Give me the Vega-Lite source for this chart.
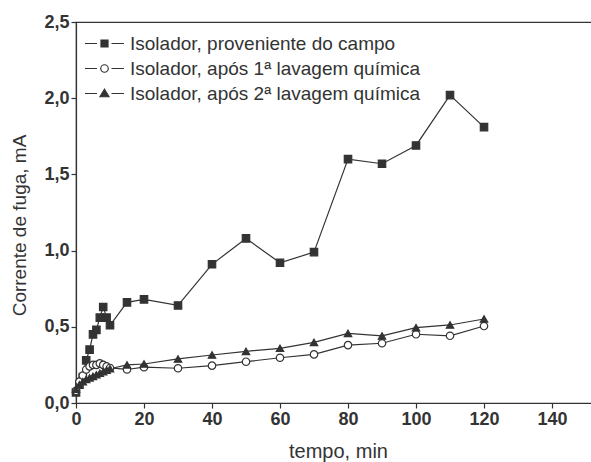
{
  "$schema": "https://vega.github.io/schema/vega-lite/v6.json",
  "width": 516,
  "height": 381,
  "autosize": {"type": "none"},
  "padding": {"left": 76, "top": 22, "right": 5, "bottom": 59},
  "background": "white",
  "config": {
    "view": {"stroke": "#333333", "strokeWidth": 1.2},
    "font": "Liberation Sans",
    "axis": {
      "grid": false,
      "domainColor": "#333333",
      "tickColor": "#333333",
      "labelColor": "#333333",
      "titleColor": "#333333",
      "labelFont": "Liberation Sans",
      "titleFont": "Liberation Sans",
      "labelFontSize": 18,
      "labelFontWeight": "bold",
      "titleFontSize": 19,
      "titleFontWeight": "normal",
      "domainWidth": 1.2,
      "tickWidth": 1.2
    }
  },
  "data": {
    "values": [
      {"t": 0, "i": 0.07, "serie": "Isolador, proveniente do campo"},
      {"t": 1, "i": 0.12, "serie": "Isolador, proveniente do campo"},
      {"t": 2, "i": 0.17, "serie": "Isolador, proveniente do campo"},
      {"t": 3, "i": 0.28, "serie": "Isolador, proveniente do campo"},
      {"t": 4, "i": 0.35, "serie": "Isolador, proveniente do campo"},
      {"t": 5, "i": 0.45, "serie": "Isolador, proveniente do campo"},
      {"t": 6, "i": 0.48, "serie": "Isolador, proveniente do campo"},
      {"t": 7, "i": 0.56, "serie": "Isolador, proveniente do campo"},
      {"t": 8, "i": 0.63, "serie": "Isolador, proveniente do campo"},
      {"t": 9, "i": 0.56, "serie": "Isolador, proveniente do campo"},
      {"t": 10, "i": 0.51, "serie": "Isolador, proveniente do campo"},
      {"t": 15, "i": 0.66, "serie": "Isolador, proveniente do campo"},
      {"t": 20, "i": 0.68, "serie": "Isolador, proveniente do campo"},
      {"t": 30, "i": 0.64, "serie": "Isolador, proveniente do campo"},
      {"t": 40, "i": 0.91, "serie": "Isolador, proveniente do campo"},
      {"t": 50, "i": 1.08, "serie": "Isolador, proveniente do campo"},
      {"t": 60, "i": 0.92, "serie": "Isolador, proveniente do campo"},
      {"t": 70, "i": 0.99, "serie": "Isolador, proveniente do campo"},
      {"t": 80, "i": 1.60, "serie": "Isolador, proveniente do campo"},
      {"t": 90, "i": 1.57, "serie": "Isolador, proveniente do campo"},
      {"t": 100, "i": 1.69, "serie": "Isolador, proveniente do campo"},
      {"t": 110, "i": 2.02, "serie": "Isolador, proveniente do campo"},
      {"t": 120, "i": 1.81, "serie": "Isolador, proveniente do campo"},
      {"t": 0, "i": 0.08, "serie": "Isolador, após 1ª lavagem química"},
      {"t": 1, "i": 0.14, "serie": "Isolador, após 1ª lavagem química"},
      {"t": 2, "i": 0.18, "serie": "Isolador, após 1ª lavagem química"},
      {"t": 3, "i": 0.22, "serie": "Isolador, após 1ª lavagem química"},
      {"t": 4, "i": 0.24, "serie": "Isolador, após 1ª lavagem química"},
      {"t": 5, "i": 0.25, "serie": "Isolador, após 1ª lavagem química"},
      {"t": 6, "i": 0.25, "serie": "Isolador, após 1ª lavagem química"},
      {"t": 7, "i": 0.26, "serie": "Isolador, após 1ª lavagem química"},
      {"t": 8, "i": 0.25, "serie": "Isolador, após 1ª lavagem química"},
      {"t": 9, "i": 0.24, "serie": "Isolador, após 1ª lavagem química"},
      {"t": 10, "i": 0.23, "serie": "Isolador, após 1ª lavagem química"},
      {"t": 15, "i": 0.22, "serie": "Isolador, após 1ª lavagem química"},
      {"t": 20, "i": 0.235, "serie": "Isolador, após 1ª lavagem química"},
      {"t": 30, "i": 0.228, "serie": "Isolador, após 1ª lavagem química"},
      {"t": 40, "i": 0.245, "serie": "Isolador, após 1ª lavagem química"},
      {"t": 50, "i": 0.271, "serie": "Isolador, após 1ª lavagem química"},
      {"t": 60, "i": 0.297, "serie": "Isolador, após 1ª lavagem química"},
      {"t": 70, "i": 0.319, "serie": "Isolador, após 1ª lavagem química"},
      {"t": 80, "i": 0.38, "serie": "Isolador, após 1ª lavagem química"},
      {"t": 90, "i": 0.392, "serie": "Isolador, após 1ª lavagem química"},
      {"t": 100, "i": 0.451, "serie": "Isolador, após 1ª lavagem química"},
      {"t": 110, "i": 0.441, "serie": "Isolador, após 1ª lavagem química"},
      {"t": 120, "i": 0.505, "serie": "Isolador, após 1ª lavagem química"},
      {"t": 0, "i": 0.09, "serie": "Isolador, após 2ª lavagem química"},
      {"t": 1, "i": 0.12, "serie": "Isolador, após 2ª lavagem química"},
      {"t": 2, "i": 0.14, "serie": "Isolador, após 2ª lavagem química"},
      {"t": 3, "i": 0.155, "serie": "Isolador, após 2ª lavagem química"},
      {"t": 4, "i": 0.165, "serie": "Isolador, após 2ª lavagem química"},
      {"t": 5, "i": 0.175, "serie": "Isolador, após 2ª lavagem química"},
      {"t": 6, "i": 0.185, "serie": "Isolador, após 2ª lavagem química"},
      {"t": 7, "i": 0.195, "serie": "Isolador, após 2ª lavagem química"},
      {"t": 8, "i": 0.205, "serie": "Isolador, após 2ª lavagem química"},
      {"t": 9, "i": 0.215, "serie": "Isolador, após 2ª lavagem química"},
      {"t": 10, "i": 0.225, "serie": "Isolador, após 2ª lavagem química"},
      {"t": 15, "i": 0.25, "serie": "Isolador, após 2ª lavagem química"},
      {"t": 20, "i": 0.256, "serie": "Isolador, após 2ª lavagem química"},
      {"t": 30, "i": 0.289, "serie": "Isolador, após 2ª lavagem química"},
      {"t": 40, "i": 0.315, "serie": "Isolador, após 2ª lavagem química"},
      {"t": 50, "i": 0.339, "serie": "Isolador, após 2ª lavagem química"},
      {"t": 60, "i": 0.359, "serie": "Isolador, após 2ª lavagem química"},
      {"t": 70, "i": 0.398, "serie": "Isolador, após 2ª lavagem química"},
      {"t": 80, "i": 0.457, "serie": "Isolador, após 2ª lavagem química"},
      {"t": 90, "i": 0.44, "serie": "Isolador, após 2ª lavagem química"},
      {"t": 100, "i": 0.494, "serie": "Isolador, após 2ª lavagem química"},
      {"t": 110, "i": 0.512, "serie": "Isolador, após 2ª lavagem química"},
      {"t": 120, "i": 0.551, "serie": "Isolador, após 2ª lavagem química"}
    ]
  },
  "layer": [
    {
      "mark": {"type": "line", "color": "#333333", "strokeWidth": 1.2},
      "encoding": {
        "x": {
          "field": "t", "type": "quantitative",
          "scale": {"domain": [0, 151.76], "nice": false},
          "axis": {
            "orient": "bottom",
            "values": [0, 10, 20, 30, 40, 50, 60, 70, 80, 90, 100, 110, 120, 130, 140, 150],
            "labelExpr": "datum.value % 20 === 0 ? datum.label : ''",
            "tickSize": 5,
            "labelPadding": 2,
            "labelFlush": false,
            "title": "tempo, min",
            "titleFontSize": 20,
            "titleX": 262,
            "titlePadding": 13
          }
        },
        "y": {
          "field": "i", "type": "quantitative",
          "scale": {"domain": [0, 2.5], "nice": false},
          "axis": {
            "values": [0, 0.25, 0.5, 0.75, 1, 1.25, 1.5, 1.75, 2, 2.25, 2.5],
            "labelExpr": "(datum.value * 2) % 1 === 0 ? replace(format(datum.value, '.1f'), '.', ',') : ''",
            "tickSize": 5,
            "labelPadding": 2,
            "labelFlush": false,
            "title": "Corrente de fuga, mA",
            "titleY": 203,
            "titlePadding": 14
          }
        },
        "detail": {"field": "serie", "type": "nominal"}
      }
    },
    {
      "mark": {"type": "point", "filled": true, "size": 55, "stroke": "#333333", "strokeWidth": 1.2, "opacity": 1},
      "encoding": {
        "x": {"field": "t", "type": "quantitative", "scale": {"domain": [0, 151.76], "nice": false}},
        "y": {"field": "i", "type": "quantitative", "scale": {"domain": [0, 2.5], "nice": false}},
        "shape": {
          "field": "serie", "type": "nominal",
          "scale": {
            "domain": ["Isolador, proveniente do campo", "Isolador, após 1ª lavagem química", "Isolador, após 2ª lavagem química"],
            "range": ["square", "circle", "triangle-up"]
          },
          "legend": null
        },
        "fill": {
          "field": "serie", "type": "nominal",
          "scale": {
            "domain": ["Isolador, proveniente do campo", "Isolador, após 1ª lavagem química", "Isolador, após 2ª lavagem química"],
            "range": ["#333333", "#ffffff", "#333333"]
          },
          "legend": null
        }
      }
    },
    {
      "mark": {"type": "point", "filled": true, "size": 0, "strokeWidth": 1.2, "opacity": 1},
      "encoding": {
        "x": {"field": "t", "type": "quantitative", "scale": {"domain": [0, 151.76], "nice": false}},
        "y": {"field": "i", "type": "quantitative", "scale": {"domain": [0, 2.5], "nice": false}},
        "shape": {
          "field": "serie", "type": "nominal",
          "scale": {
            "domain": ["Isolador, proveniente do campo", "Isolador, após 1ª lavagem química", "Isolador, após 2ª lavagem química"],
            "range": [
              "M-3.9,0H-1.5M1.4,0H3.9M-0.7,-0.7H0.7V0.7H-0.7Z",
              "M-3.9,0H-1.5M1.4,0H3.9M-0.75,0A0.75,0.75 0 1 1 0.75,0A0.75,0.75 0 1 1 -0.75,0Z",
              "M-3.9,0H-1.5M1.4,0H3.9M0,-0.85L0.9,0.65H-0.9Z"
            ]
          },
          "legend": {
            "title": null, "orient": "none", "legendX": 19, "legendY": 12,
            "symbolSize": 100, "symbolStrokeWidth": 1.2,
            "labelFontSize": 19, "labelColor": "#333333", "labelFont": "Liberation Sans",
            "labelOffset": 16, "rowPadding": 5, "padding": 0, "labelLimit": 400
          }
        },
        "fill": {
          "field": "serie", "type": "nominal",
          "scale": {
            "domain": ["Isolador, proveniente do campo", "Isolador, após 1ª lavagem química", "Isolador, após 2ª lavagem química"],
            "range": ["#333333", "#ffffff", "#333333"]
          },
          "legend": {
            "title": null, "orient": "none", "legendX": 19, "legendY": 12,
            "symbolSize": 100, "symbolStrokeWidth": 1.2,
            "labelFontSize": 19, "labelColor": "#333333", "labelFont": "Liberation Sans",
            "labelOffset": 16, "rowPadding": 5, "padding": 0, "labelLimit": 400
          }
        },
        "stroke": {
          "field": "serie", "type": "nominal",
          "scale": {
            "domain": ["Isolador, proveniente do campo", "Isolador, após 1ª lavagem química", "Isolador, após 2ª lavagem química"],
            "range": ["#333333", "#333333", "#333333"]
          },
          "legend": {
            "title": null, "orient": "none", "legendX": 19, "legendY": 12,
            "symbolSize": 100, "symbolStrokeWidth": 1.2,
            "labelFontSize": 19, "labelColor": "#333333", "labelFont": "Liberation Sans",
            "labelOffset": 16, "rowPadding": 5, "padding": 0, "labelLimit": 400
          }
        }
      }
    }
  ],
  "resolve": {
    "scale": {"shape": "independent", "fill": "independent", "stroke": "independent"}
  }
}
